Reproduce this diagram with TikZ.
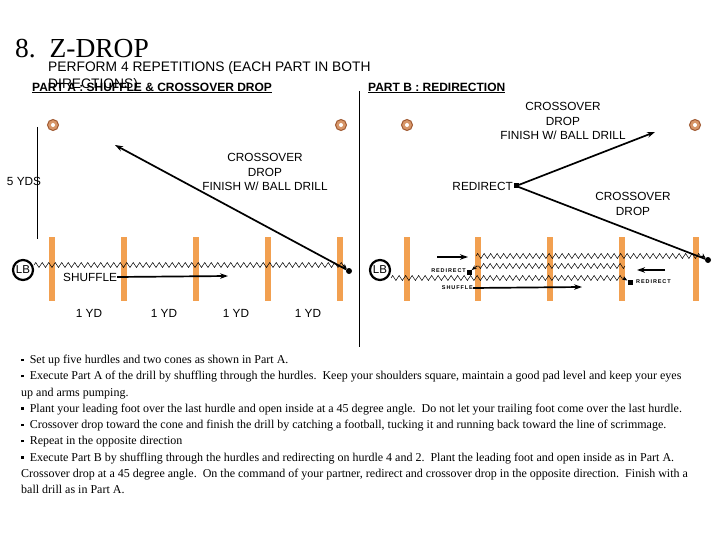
\documentclass[tikz,border=0pt]{standalone}
\usepackage{fontspec}
\setmainfont{Liberation Serif}
\setsansfont{Liberation Sans}
\usetikzlibrary{arrows.meta,decorations.pathmorphing}
\definecolor{hurdleorange}{RGB}{242,160,80}
\definecolor{conefill}{RGB}{215,150,105}
\definecolor{coneedge}{RGB}{160,90,50}
\newcommand{\bul}{\raisebox{0.45ex}{\rule{2.6pt}{2.6pt}}\ \ }
\begin{document}
\begin{tikzpicture}[x=1pt,y=-1pt,
	hurdle/.style={rectangle,fill=hurdleorange,minimum width=6pt,minimum height=64pt,inner sep=0pt},
	cone/.style={circle,draw=coneedge,fill=conefill,line width=1pt,minimum size=11pt,inner sep=0pt,
		path picture={\fill[white] (path picture bounding box.center) circle (2pt);}},
	player/.style={circle,draw,line width=2.2pt,minimum size=20pt,inner sep=0pt,font=\sffamily\fontsize{11.5}{11.5}\selectfont},
	spot/.style={circle,fill,minimum size=6pt,inner sep=0pt},
	zig/.style={decorate,decoration={zigzag,segment length=6.5pt,amplitude=2.5pt},line width=0.5pt},
	run/.style={line width=1.7pt,-{Stealth[length=8pt,width=5.5pt]}},
	hop/.style={line width=0.8pt,-{Stealth[length=5pt,width=4pt]}},
	lbl/.style={font=\sffamily\fontsize{11.8}{14.5}\selectfont,align=center,inner sep=0pt},
	small/.style={font=\sffamily\bfseries\fontsize{5.5}{6}\selectfont,inner sep=0pt},
	head/.style={font=\sffamily\bfseries\fontsize{12}{12}\selectfont,inner sep=0pt}]
	\useasboundingbox[fill=white] (0,0) rectangle (720,540);

	% titles
	\node at (15,49) [anchor=west,inner sep=0pt,font=\fontsize{27.5}{27.5}\selectfont] (title) {8.\ \ Z-DROP};
	\node at (48,68) [anchor=west,inner sep=0pt,font=\sffamily\fontsize{13.8}{15}\selectfont] (perform) {PERFORM 4 REPETITIONS (EACH PART IN BOTH};
	\node at (48,85) [anchor=west,inner sep=0pt,font=\sffamily\fontsize{13.8}{15}\selectfont] (directions) {DIRECTIONS)};
	\node at (32,88) [anchor=west,head] (partA) {\underline{PART A : SHUFFLE \& CROSSOVER DROP}};
	\node at (368,88) [anchor=west,head] (partB) {\underline{PART B : REDIRECTION}};

	% divider
	\coordinate (divtop) at (359,91);
	\coordinate (divbot) at (359,347);
	\draw[line width=0.8pt] (divtop) -- (divbot);

	% cones
	\node at (53,125) [cone] (coneA1) {};
	\node at (341,125) [cone] (coneA2) {};
	\node at (407,125) [cone] (coneB1) {};
	\node at (695,125) [cone] (coneB2) {};

	% hurdles
	\foreach \i/\x in {1/52,2/124,3/196,4/268,5/340}
		\node at (\x,269) [hurdle] (hA\i) {};
	\foreach \i/\x in {1/407,2/478,3/550,4/622,5/696}
		\node at (\x,269) [hurdle] (hB\i) {};

	% part A
	\coordinate (ydtop) at (37,127);
	\coordinate (ydbot) at (37,239);
	\draw[line width=0.8pt] (ydtop) -- (ydbot);
	\node at (24,181) [lbl] (yds) {5 YDS};
	\node at (23,270) [player] (lbA) {LB};
	\coordinate (zigAend) at (343,265);
	\draw[zig] (lbA.east |- zigAend) -- (zigAend);
	\node at (349,271) [spot] (dotA) {};
	\draw[hop] (zigAend) -- (dotA);
	\coordinate (tipA) at (115,145);
	\draw[run] (dotA) -- (tipA);
	\node at (265,172) [lbl] (dropA) {CROSSOVER\\DROP\\FINISH W/ BALL DRILL};
	\node at (63,277) [lbl,anchor=west] (shufA) {SHUFFLE};
	\coordinate (shufAend) at (228,276);
	\draw[run] (shufA.east) -- (shufAend);
	\foreach \x in {89,164,236,308}
		\node at (\x,313) [lbl] {1 YD};

	% part B
	\node at (380,270) [player] (lbB) {LB};
	\coordinate (botL) at (391,278);
	\coordinate (botR) at (623,278);
	\coordinate (midR) at (625,266);
	\coordinate (midL) at (477,266);
	\coordinate (topL) at (476,256);
	\coordinate (topR) at (703,256);
	\node at (630,282) [spot,rectangle,minimum size=5pt] (redir1) {};
	\node at (469,272) [spot,rectangle,minimum size=5pt] (redir2) {};
	\node at (708,260) [spot] (dotB) {};
	\draw[zig] (botL) -- (botR);
	\draw[hop] (botR) -- (redir1);
	\draw[zig] (midR) -- (midL);
	\draw[hop] (midL) -- (redir2);
	\draw[zig] (topL) -- (topR);
	\draw[hop] (topR) -- (dotB);
	\node at (516,186) [rectangle,fill,minimum size=5pt,inner sep=0pt] (turnB) {};
	\coordinate (tipB) at (655,132);
	\draw[line width=1.7pt] (dotB) -- (turnB);
	\draw[run] (turnB) -- (tipB);
	\node at (513,186) [lbl,anchor=east] (redirB) {REDIRECT};
	\node at (563,121) [lbl] (dropB) {CROSSOVER\\DROP\\FINISH W/ BALL DRILL};
	\node at (633,204) [lbl] (dropB2) {CROSSOVER\\DROP};
	\coordinate (inL) at (437,257);
	\coordinate (inR) at (468,257);
	\draw[run] (inL) -- (inR);
	\coordinate (backR) at (665,270);
	\coordinate (backL) at (637,270);
	\draw[run] (backR) -- (backL);
	\node at (466,271) [small,anchor=east] (redirA) {R\,E\,D\,I\,R\,E\,C\,T};
	\node at (636,282) [small,anchor=west] (redirC) {R\,E\,D\,I\,R\,E\,C\,T};
	\node at (473,288) [small,anchor=east] (shufB) {S\,H\,U\,F\,F\,L\,E};
	\coordinate (shufBend) at (582,287);
	\draw[run] (shufB.east) -- (shufBend);

	% notes
	\node at (21,355) [anchor=north west,align=left,inner sep=0pt,font=\fontsize{12}{16.25}\selectfont] (notes) {%
		\bul Set up five hurdles and two cones as shown in Part A.\\
		\bul Execute Part A of the drill by shuffling through the hurdles.\ \ Keep your shoulders square, maintain a good pad level and keep your eyes\\
		up and arms pumping.\\
		\bul Plant your leading foot over the last hurdle and open inside at a 45 degree angle.\ \ Do not let your trailing foot come over the last hurdle.\\
		\bul Crossover drop toward the cone and finish the drill by catching a football, tucking it and running back toward the line of scrimmage.\\
		\bul Repeat in the opposite direction\\
		\bul Execute Part B by shuffling through the hurdles and redirecting on hurdle 4 and 2.\ \ Plant the leading foot and open inside as in Part A.\\
		Crossover drop at a 45 degree angle.\ \ On the command of your partner, redirect and crossover drop in the opposite direction.\ \ Finish with a\\
		ball drill as in Part A.};
\end{tikzpicture}
\end{document}
